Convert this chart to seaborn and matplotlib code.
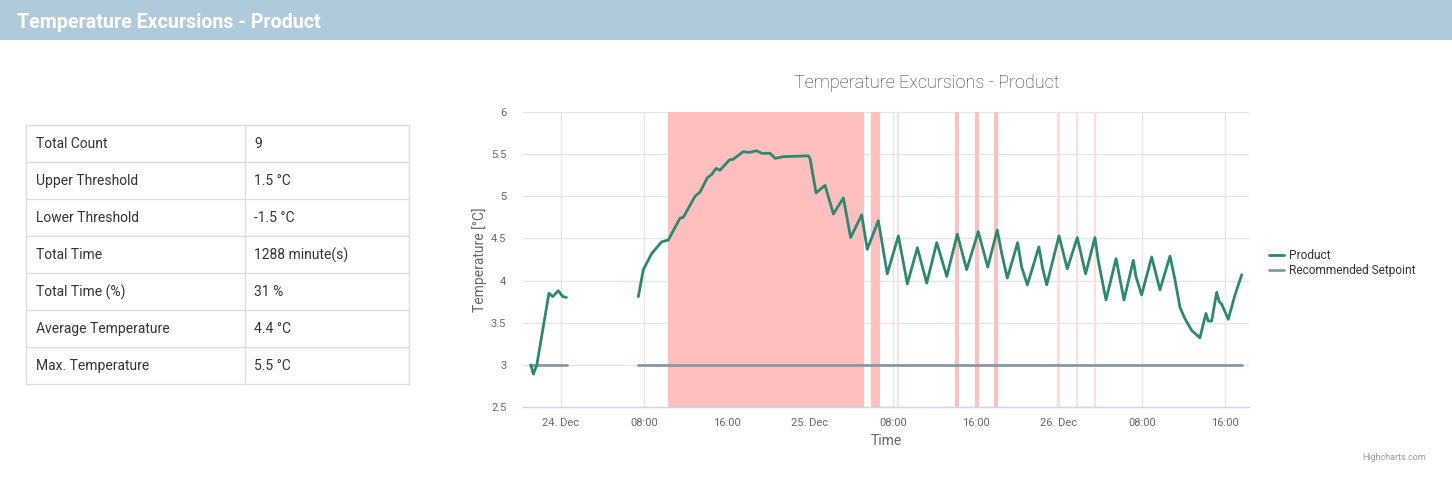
import matplotlib
matplotlib.use("Agg")
import matplotlib.pyplot as plt
import matplotlib.dates as mdates
from matplotlib.lines import Line2D
from matplotlib.patches import Rectangle
import seaborn as sns
import pandas as pd

# ---------------- data ----------------
header_title = "Temperature Excursions - Product"
chart_title = "Temperature Excursions - Product"

table_labels = ["Total Count", "Upper Threshold", "Lower Threshold", "Total Time",
                "Total Time (%)", "Average Temperature", "Max. Temperature"]
table_values = ["9", "1.5 °C", "-1.5 °C", "1288 minute(s)", "31 %", "4.4 °C", "5.5 °C"]

# Product series, segment 1
product_times_1 = ["2023-12-23 21:05", "2023-12-23 21:20", "2023-12-23 21:40", "2023-12-23 22:50",
                   "2023-12-23 23:12", "2023-12-23 23:44", "2023-12-24 00:10", "2023-12-24 00:31"]
product_values_1 = [3.00, 2.89, 3.00, 3.85, 3.81, 3.88, 3.81, 3.80]

# Product series, segment 2
product_times_2 = [
    "2023-12-24 07:27", "2023-12-24 07:56", "2023-12-24 08:44", "2023-12-24 09:42", "2023-12-24 10:20",
    "2023-12-24 11:28", "2023-12-24 11:47", "2023-12-24 12:55", "2023-12-24 13:24", "2023-12-24 14:06",
    "2023-12-24 14:32", "2023-12-24 14:56", "2023-12-24 15:20", "2023-12-24 16:13", "2023-12-24 16:36",
    "2023-12-24 17:34", "2023-12-24 18:07", "2023-12-24 18:52", "2023-12-24 19:21", "2023-12-24 20:09",
    "2023-12-24 20:38", "2023-12-24 21:26", "2023-12-24 23:50", "2023-12-25 00:00", "2023-12-25 00:35",
    "2023-12-25 01:27", "2023-12-25 02:15", "2023-12-25 03:13", "2023-12-25 03:55", "2023-12-25 04:59",
    "2023-12-25 05:31", "2023-12-25 06:35", "2023-12-25 07:27", "2023-12-25 08:31", "2023-12-25 09:23",
    "2023-12-25 10:21", "2023-12-25 11:15", "2023-12-25 12:13", "2023-12-25 13:11", "2023-12-25 14:12",
    "2023-12-25 15:06", "2023-12-25 16:13", "2023-12-25 17:08", "2023-12-25 18:03", "2023-12-25 18:29",
    "2023-12-25 19:01", "2023-12-25 20:01", "2023-12-25 20:24", "2023-12-25 20:57", "2023-12-25 22:04",
    "2023-12-25 22:26", "2023-12-25 22:49", "2023-12-26 00:00", "2023-12-26 00:48", "2023-12-26 01:46",
    "2023-12-26 02:34", "2023-12-26 03:28", "2023-12-26 03:47", "2023-12-26 04:32", "2023-12-26 05:30",
    "2023-12-26 06:16", "2023-12-26 07:10", "2023-12-26 07:25", "2023-12-26 07:58", "2023-12-26 08:56",
    "2023-12-26 09:44", "2023-12-26 10:42", "2023-12-26 11:11", "2023-12-26 11:40", "2023-12-26 12:08",
    "2023-12-26 12:47", "2023-12-26 13:35", "2023-12-26 14:10", "2023-12-26 14:23", "2023-12-26 14:43",
    "2023-12-26 15:12", "2023-12-26 15:27", "2023-12-26 15:41", "2023-12-26 16:19", "2023-12-26 16:58",
    "2023-12-26 17:37"]
product_values_2 = [
    3.81, 4.13, 4.32, 4.46, 4.48,
    4.74, 4.75, 5.00, 5.05, 5.22,
    5.26, 5.33, 5.31, 5.43, 5.44,
    5.53, 5.52, 5.54, 5.51, 5.51,
    5.45, 5.47, 5.48, 5.45, 5.04,
    5.13, 4.79, 4.98, 4.51, 4.78,
    4.37, 4.71, 4.08, 4.53, 3.96,
    4.39, 3.97, 4.45, 4.05, 4.55,
    4.13, 4.58, 4.16, 4.60, 4.32,
    4.03, 4.45, 4.16, 3.95, 4.40,
    4.14, 3.95, 4.53, 4.14, 4.51,
    4.08, 4.51, 4.24, 3.77, 4.26,
    3.77, 4.24, 4.05, 3.83, 4.28,
    3.89, 4.29, 4.01, 3.68, 3.55,
    3.41, 3.32, 3.61, 3.52, 3.52,
    3.86, 3.75, 3.72, 3.54, 3.83,
    4.07]

# Recommended setpoint segments
setpoint_times = ["2023-12-23 21:03", "2023-12-24 00:33", "2023-12-24 07:25", "2023-12-26 17:40"]
setpoint_values = [3.0, 3.0, 3.0, 3.0]
setpoint_segments = [1, 1, 2, 2]

# Excursion bands (start, end, strong?)
band_starts = ["2023-12-24 10:19", "2023-12-25 05:53", "2023-12-25 08:23", "2023-12-25 13:59",
               "2023-12-25 15:57", "2023-12-25 17:47", "2023-12-25 23:49", "2023-12-26 01:38",
               "2023-12-26 03:22"]
band_ends = ["2023-12-25 05:12", "2023-12-25 06:45", "2023-12-25 08:35", "2023-12-25 14:22",
             "2023-12-25 16:17", "2023-12-25 18:10", "2023-12-26 00:06", "2023-12-26 01:50",
             "2023-12-26 03:34"]
band_strong = [True, True, False, True, True, True, False, False, False]

x_start = "2023-12-23 20:20"
x_end = "2023-12-26 18:19"
y_ticks = [2.5, 3, 3.5, 4, 4.5, 5, 5.5, 6]
y_tick_labels = ["2.5", "3", "3.5", "4", "4.5", "5", "5.5", "6"]
x_tick_times = ["2023-12-24 00:00", "2023-12-24 08:00", "2023-12-24 16:00", "2023-12-25 00:00",
                "2023-12-25 08:00", "2023-12-25 16:00", "2023-12-26 00:00", "2023-12-26 08:00",
                "2023-12-26 16:00"]
x_tick_labels = ["24. Dec", "08:00", "16:00", "25. Dec", "08:00", "16:00", "26. Dec", "08:00", "16:00"]

# ---------------- build frames ----------------
df_product = pd.DataFrame({
    "time": pd.to_datetime(product_times_1 + product_times_2),
    "value": product_values_1 + product_values_2,
    "segment": [1] * len(product_times_1) + [2] * len(product_times_2),
})
df_setpoint = pd.DataFrame({
    "time": pd.to_datetime(setpoint_times),
    "value": setpoint_values,
    "segment": setpoint_segments,
})

# ---------------- styling ----------------
sns.set_theme(style="white")
plt.rcParams["font.family"] = ["Roboto", "DejaVu Sans"]

W, H = 1452, 487
fig = plt.figure(figsize=(W / 100, H / 100), dpi=100)
fig.patch.set_facecolor("white")

PRODUCT_COLOR = "#2b8a6e"
SETPOINT_COLOR = "#8899a4"
BAND_STRONG = "#ffbfbf"
BAND_LIGHT = "#ffdede"
TEXT = "#333333"
AXIS_TEXT = "#666666"

# overlay for header and table (pixel coordinates)
ov = fig.add_axes([0, 0, 1, 1])
ov.set_xlim(0, W)
ov.set_ylim(H, 0)
ov.axis("off")
ov.add_patch(Rectangle((0, 0), W, 40, facecolor="#afcadb", edgecolor="none"))
ov.text(17, 22, header_title, color="white", fontsize=14.1, fontweight="bold",
        va="center", ha="left")

# table
top, row_h = 125, 37
left, mid, right = 26, 245, 409
border = "#dddddd"
n = len(table_labels)
for i in range(n + 1):
    y = top + i * row_h
    ov.plot([left, right], [y, y], color=border, lw=1)
for xv in (left, mid, right):
    ov.plot([xv, xv], [top, top + n * row_h], color=border, lw=1)
for i, (lab, val) in enumerate(zip(table_labels, table_values)):
    yc = top + i * row_h + row_h / 2 + 0.5
    ov.text(36, yc, lab, fontsize=10, color=TEXT, va="center", ha="left")
    ov.text(254, yc, val, fontsize=10, color=TEXT, va="center", ha="left")

# credits
ov.text(1426, 457, "Highcharts.com", fontsize=6.5, color="#999999", ha="right", va="center")

# main chart axes
ax_l, ax_r, ax_t, ax_b = 523, 1249, 112, 407
ax = fig.add_axes([ax_l / W, 1 - ax_b / H, (ax_r - ax_l) / W, (ax_b - ax_t) / H])
ax.set_facecolor("none")

for s, e, strong in zip(band_starts, band_ends, band_strong):
    ax.axvspan(pd.Timestamp(s), pd.Timestamp(e), color=BAND_STRONG if strong else BAND_LIGHT,
               lw=0, zorder=1)

sns.lineplot(data=df_setpoint, x="time", y="value", units="segment", estimator=None,
             color=SETPOINT_COLOR, lw=2, ax=ax, legend=False, zorder=3)
sns.lineplot(data=df_product, x="time", y="value", units="segment", estimator=None,
             color=PRODUCT_COLOR, lw=2, ax=ax, legend=False, zorder=4,
             solid_joinstyle="round")

ax.set_xlim(pd.Timestamp(x_start), pd.Timestamp(x_end))
ax.set_ylim(2.5, 6)
ax.set_yticks(y_ticks)
ax.set_yticklabels(y_tick_labels)
ax.set_xticks([mdates.date2num(pd.Timestamp(t)) for t in x_tick_times])
ax.set_xticklabels(x_tick_labels)
ax.tick_params(axis="y", length=0, pad=12, labelsize=8, labelcolor=AXIS_TEXT)
ax.tick_params(axis="x", length=0, pad=8, labelsize=8, labelcolor=AXIS_TEXT)

ax.grid(True, color="#e6e6e6", lw=1, zorder=0)
ax.set_axisbelow(True)
for side in ("left", "right", "top"):
    ax.spines[side].set_visible(False)
ax.spines["bottom"].set_color("#ccd6eb")
ax.spines["bottom"].set_linewidth(1)

ax.set_ylabel("Temperature [°C]", fontsize=10, color=AXIS_TEXT)
ax.set_xlabel("Time", fontsize=10, color=AXIS_TEXT)
ax.yaxis.set_label_coords((487 - ax_l) / (ax_r - ax_l), 0.5)
ax.xaxis.set_label_coords(0.5, -(434 - ax_b) / (ax_b - ax_t))

ov.text(927, 83, chart_title, fontsize=13, color=TEXT, ha="center", va="center",
        fontweight="light")

handles = [Line2D([0], [0], color=PRODUCT_COLOR, lw=2),
           Line2D([0], [0], color=SETPOINT_COLOR, lw=2)]
fig.legend(handles, ["Product", "Recommended Setpoint"], loc="center left",
           bbox_to_anchor=(1258 / W, 1 - 263 / H), frameon=False, fontsize=8.6,
           handlelength=1.3, handletextpad=0.4, labelspacing=0.15, labelcolor=TEXT)

fig.savefig("out.png", dpi=100, facecolor="white")
